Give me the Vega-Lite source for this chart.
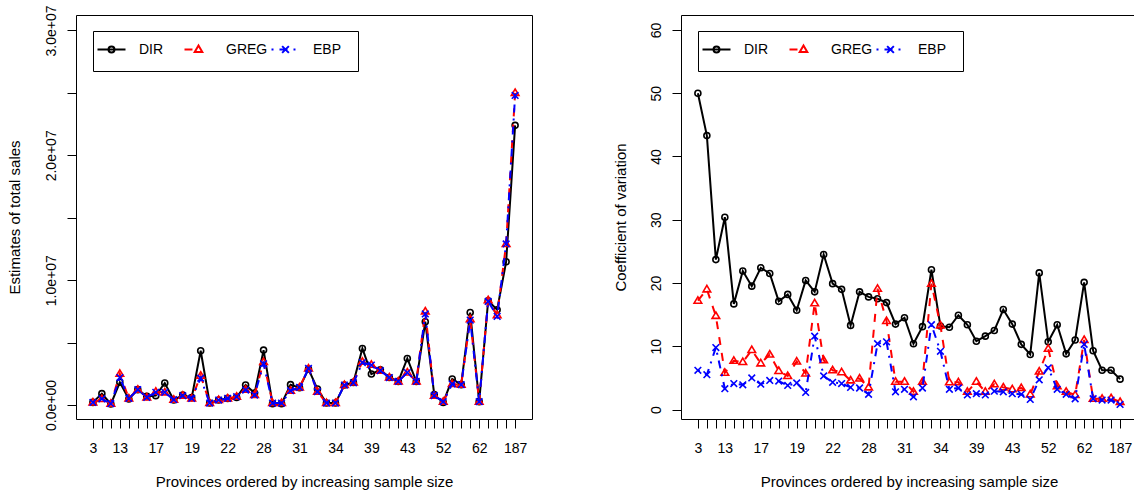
{
  "$schema": "https://vega.github.io/schema/vega-lite/v6.json",
  "autosize": {"type": "pad"},
  "padding": {"left": 6, "top": 4, "right": 0, "bottom": 0},
  "background": "white",
  "datasets": {
    "sales": [
      {"i":1,"DIR":210000,"GREG":210000,"EBP":210000},
      {"i":2,"DIR":910000,"GREG":480000,"EBP":500000},
      {"i":3,"DIR":80000,"GREG":110000,"EBP":110000},
      {"i":4,"DIR":1820000,"GREG":2500000,"EBP":2200000},
      {"i":5,"DIR":480000,"GREG":530000,"EBP":530000},
      {"i":6,"DIR":1230000,"GREG":1230000,"EBP":1230000},
      {"i":7,"DIR":690000,"GREG":610000,"EBP":610000},
      {"i":8,"DIR":750000,"GREG":1070000,"EBP":1020000},
      {"i":9,"DIR":1760000,"GREG":1010000,"EBP":1020000},
      {"i":10,"DIR":400000,"GREG":430000,"EBP":430000},
      {"i":11,"DIR":800000,"GREG":750000,"EBP":750000},
      {"i":12,"DIR":590000,"GREG":530000,"EBP":530000},
      {"i":13,"DIR":4350000,"GREG":2350000,"EBP":2150000},
      {"i":14,"DIR":160000,"GREG":160000,"EBP":160000},
      {"i":15,"DIR":400000,"GREG":400000,"EBP":400000},
      {"i":16,"DIR":530000,"GREG":530000,"EBP":530000},
      {"i":17,"DIR":610000,"GREG":670000,"EBP":670000},
      {"i":18,"DIR":1600000,"GREG":1230000,"EBP":1200000},
      {"i":19,"DIR":960000,"GREG":800000,"EBP":800000},
      {"i":20,"DIR":4400000,"GREG":3450000,"EBP":3300000},
      {"i":21,"DIR":110000,"GREG":160000,"EBP":160000},
      {"i":22,"DIR":110000,"GREG":160000,"EBP":160000},
      {"i":23,"DIR":1630000,"GREG":1150000,"EBP":1150000},
      {"i":24,"DIR":1390000,"GREG":1410000,"EBP":1410000},
      {"i":25,"DIR":2880000,"GREG":2930000,"EBP":2930000},
      {"i":26,"DIR":1280000,"GREG":1070000,"EBP":1070000},
      {"i":27,"DIR":160000,"GREG":160000,"EBP":160000},
      {"i":28,"DIR":160000,"GREG":160000,"EBP":160000},
      {"i":29,"DIR":1600000,"GREG":1600000,"EBP":1600000},
      {"i":30,"DIR":1810000,"GREG":1810000,"EBP":1780000},
      {"i":31,"DIR":4530000,"GREG":3470000,"EBP":3400000},
      {"i":32,"DIR":2480000,"GREG":3230000,"EBP":3200000},
      {"i":33,"DIR":2830000,"GREG":2750000,"EBP":2750000},
      {"i":34,"DIR":2210000,"GREG":2210000,"EBP":2200000},
      {"i":35,"DIR":1890000,"GREG":1890000,"EBP":1890000},
      {"i":36,"DIR":3730000,"GREG":2610000,"EBP":2600000},
      {"i":37,"DIR":1890000,"GREG":1890000,"EBP":1890000},
      {"i":38,"DIR":6670000,"GREG":7500000,"EBP":7300000},
      {"i":39,"DIR":830000,"GREG":750000,"EBP":750000},
      {"i":40,"DIR":210000,"GREG":270000,"EBP":270000},
      {"i":41,"DIR":2080000,"GREG":1680000,"EBP":1680000},
      {"i":42,"DIR":1630000,"GREG":1630000,"EBP":1630000},
      {"i":43,"DIR":7410000,"GREG":6880000,"EBP":6800000},
      {"i":44,"DIR":270000,"GREG":270000,"EBP":270000},
      {"i":45,"DIR":8350000,"GREG":8400000,"EBP":8300000},
      {"i":46,"DIR":7630000,"GREG":7200000,"EBP":7100000},
      {"i":47,"DIR":11470000,"GREG":12900000,"EBP":12900000},
      {"i":48,"DIR":22400000,"GREG":25000000,"EBP":24800000}
    ],
    "cv": [
      {"i":1,"DIR":50.0,"GREG":17.2,"EBP":6.2},
      {"i":2,"DIR":43.3,"GREG":19.0,"EBP":5.5},
      {"i":3,"DIR":23.7,"GREG":14.8,"EBP":9.8},
      {"i":4,"DIR":30.4,"GREG":5.8,"EBP":3.3},
      {"i":5,"DIR":16.7,"GREG":7.7,"EBP":4.1},
      {"i":6,"DIR":21.9,"GREG":7.5,"EBP":3.9},
      {"i":7,"DIR":19.5,"GREG":9.4,"EBP":5.0},
      {"i":8,"DIR":22.4,"GREG":7.3,"EBP":4.0},
      {"i":9,"DIR":21.5,"GREG":8.7,"EBP":4.6},
      {"i":10,"DIR":17.1,"GREG":6.1,"EBP":4.5},
      {"i":11,"DIR":18.2,"GREG":5.3,"EBP":3.8},
      {"i":12,"DIR":15.7,"GREG":7.6,"EBP":4.2},
      {"i":13,"DIR":20.4,"GREG":5.7,"EBP":2.7},
      {"i":14,"DIR":18.6,"GREG":16.8,"EBP":11.6},
      {"i":15,"DIR":24.5,"GREG":7.8,"EBP":5.3},
      {"i":16,"DIR":19.9,"GREG":6.2,"EBP":4.3},
      {"i":17,"DIR":19.0,"GREG":5.9,"EBP":4.1},
      {"i":18,"DIR":13.3,"GREG":4.6,"EBP":3.5},
      {"i":19,"DIR":18.6,"GREG":4.9,"EBP":3.4},
      {"i":20,"DIR":17.8,"GREG":3.5,"EBP":2.4},
      {"i":21,"DIR":17.5,"GREG":19.1,"EBP":10.4},
      {"i":22,"DIR":16.9,"GREG":14.0,"EBP":10.7},
      {"i":23,"DIR":13.5,"GREG":4.4,"EBP":2.8},
      {"i":24,"DIR":14.5,"GREG":4.4,"EBP":3.2},
      {"i":25,"DIR":10.4,"GREG":2.8,"EBP":2.0},
      {"i":26,"DIR":13.1,"GREG":4.4,"EBP":3.4},
      {"i":27,"DIR":22.1,"GREG":19.9,"EBP":13.4},
      {"i":28,"DIR":13.2,"GREG":13.3,"EBP":9.2},
      {"i":29,"DIR":13.0,"GREG":4.3,"EBP":3.2},
      {"i":30,"DIR":14.9,"GREG":4.3,"EBP":3.4},
      {"i":31,"DIR":13.4,"GREG":2.8,"EBP":2.3},
      {"i":32,"DIR":10.8,"GREG":4.4,"EBP":2.5},
      {"i":33,"DIR":11.6,"GREG":2.8,"EBP":2.3},
      {"i":34,"DIR":12.5,"GREG":4.0,"EBP":2.9},
      {"i":35,"DIR":15.8,"GREG":3.5,"EBP":2.8},
      {"i":36,"DIR":13.5,"GREG":3.2,"EBP":2.5},
      {"i":37,"DIR":10.3,"GREG":3.4,"EBP":2.4},
      {"i":38,"DIR":8.7,"GREG":2.4,"EBP":1.6},
      {"i":39,"DIR":21.6,"GREG":6.0,"EBP":4.7},
      {"i":40,"DIR":10.7,"GREG":9.6,"EBP":6.6},
      {"i":41,"DIR":13.4,"GREG":3.7,"EBP":3.2},
      {"i":42,"DIR":8.8,"GREG":2.8,"EBP":2.4},
      {"i":43,"DIR":11.0,"GREG":2.3,"EBP":1.7},
      {"i":44,"DIR":20.1,"GREG":11.0,"EBP":10.3},
      {"i":45,"DIR":9.3,"GREG":1.7,"EBP":1.7},
      {"i":46,"DIR":6.2,"GREG":1.7,"EBP":1.5},
      {"i":47,"DIR":6.2,"GREG":1.8,"EBP":1.5},
      {"i":48,"DIR":4.8,"GREG":1.2,"EBP":0.8}
    ]
  },
  "config": {
    "font": "Liberation Sans",
    "view": {"stroke": "black", "strokeWidth": 1},
    "axis": {
      "grid": false, "domain": false, "domainColor": "black", "domainWidth": 1,
      "tickColor": "black", "tickSize": 9, "tickWidth": 1,
      "labelFont": "Liberation Sans", "labelFontSize": 14, "labelColor": "black",
      "titleFont": "Liberation Sans", "titleFontSize": 15, "titleFontWeight": "normal", "titleColor": "black",
      "labelOverlap": false, "labelFlush": false
    },
    "legend": {
      "orient": "none", "legendX": 17, "legendY": 16,
      "direction": "horizontal", "columns": 3, "gridAlign": "all",
      "strokeColor": "black", "fillColor": "white", "padding": 3.5,
      "symbolSize": 784, "symbolStrokeWidth": 2, "symbolOpacity": 1, "symbolOffset": 0,
      "labelFont": "Liberation Sans", "labelFontSize": 14, "labelColor": "black",
      "labelOffset": 12.5, "columnPadding": 0, "rowPadding": 0, "cornerRadius": 0
    }
  },
  "spacing": 149,
  "bounds": "flush",
  "resolve": {"scale": {"color": "independent", "shape": "independent"}, "legend": {"color": "independent", "shape": "independent"}},
  "hconcat": [
    {
      "width": 456,
      "height": 404,
      "data": {"name": "sales"},
      "resolve": {"axis": {"x": "independent", "y": "independent"}},
      "layer": [
        {
          "mark": {"type": "line", "color": "black", "strokeWidth": 2},
          "encoding": {
            "x": {"field": "i", "type": "quantitative", "scale": {"domain": [-0.88, 49.88], "nice": false, "zero": false},
              "axis": {
                "values": [1,2,3,4,5,6,7,8,9,10,11,12,13,14,15,16,17,18,19,20,21,22,23,24,25,26,27,28,29,30,31,32,33,34,35,36,37,38,39,40,41,42,43,44,45,46,47,48],
                "labelExpr": "datum.value == 1 ? '3' : datum.value == 4 ? '13' : datum.value == 8 ? '17' : datum.value == 12 ? '19' : datum.value == 16 ? '22' : datum.value == 20 ? '28' : datum.value == 24 ? '31' : datum.value == 28 ? '34' : datum.value == 32 ? '39' : datum.value == 36 ? '43' : datum.value == 40 ? '52' : datum.value == 44 ? '62' : datum.value == 48 ? '187' : ''",
                "labelAngle": 0, "labelAlign": "center", "labelBaseline": "alphabetic", "labelPadding": 24,
                "title": "Provinces ordered by increasing sample size", "titleY": 67, "titleBaseline": "alphabetic"
              }},
            "y": {"field": "DIR", "type": "quantitative", "scale": {"domain": [-1120000, 31240000], "nice": false, "zero": false},
              "axis": {
                "values": [0, 5000000, 10000000, 15000000, 20000000, 25000000, 30000000],
                "labelExpr": "datum.value == 0 ? '0.0e+00' : datum.value % 10000000 == 0 ? format(datum.value / 10000000, '.1f') + 'e+07' : ''",
                "labelAngle": -90, "labelAlign": "center", "labelBaseline": "alphabetic", "labelPadding": 12,
                "title": "Estimates of total sales", "titleX": -57, "titleBaseline": "alphabetic", "titleAngle": -90
              }}
          }
        },
        {
          "mark": {"type": "point", "shape": "M0.75,0A0.75,0.75,0,1,1,-0.75,0A0.75,0.75,0,1,1,0.75,0", "size": 64, "filled": false, "color": "black", "strokeWidth": 1.6, "opacity": 1},
          "encoding": {
            "x": {"field": "i", "type": "quantitative", "axis": null},
            "y": {"field": "DIR", "type": "quantitative", "axis": null}
          }
        },
        {
          "mark": {"type": "line", "color": "#ff0000", "strokeWidth": 2, "strokeDash": [8, 8], "strokeCap": "butt"},
          "encoding": {
            "x": {"field": "i", "type": "quantitative", "axis": null},
            "y": {"field": "GREG", "type": "quantitative", "axis": null}
          }
        },
        {
          "mark": {"type": "point", "shape": "M0,-0.975L0.95,0.625L-0.95,0.625Z", "size": 64, "filled": false, "color": "#ff0000", "strokeWidth": 1.6, "opacity": 1},
          "encoding": {
            "x": {"field": "i", "type": "quantitative", "axis": null},
            "y": {"field": "GREG", "type": "quantitative", "axis": null}
          }
        },
        {
          "mark": {"type": "line", "color": "#0000ff", "strokeWidth": 2, "strokeDash": [2, 6, 8, 6], "strokeCap": "butt"},
          "encoding": {
            "x": {"field": "i", "type": "quantitative", "axis": null},
            "y": {"field": "EBP", "type": "quantitative", "axis": null}
          }
        },
        {
          "mark": {"type": "point", "shape": "M-0.83,-0.83L0.83,0.83M-0.83,0.83L0.83,-0.83", "size": 64, "filled": false, "color": "#0000ff", "strokeWidth": 1.6, "opacity": 1},
          "encoding": {
            "x": {"field": "i", "type": "quantitative", "axis": null},
            "y": {"field": "EBP", "type": "quantitative", "axis": null}
          }
        },
        {
          "transform": [{"fold": ["DIR", "GREG", "EBP"], "as": ["method", "value"]}],
          "mark": {"type": "point", "filled": false, "opacity": 0},
          "encoding": {
            "x": {"field": "i", "type": "quantitative", "axis": null},
            "y": {"field": "value", "type": "quantitative", "axis": null},
            "color": {"field": "method", "type": "nominal",
              "scale": {"domain": ["DIR", "GREG", "EBP"], "range": ["black", "#ff0000", "#0000ff"]},
              "legend": {"title": null, "symbolOpacity": 1}},
            "shape": {"field": "method", "type": "nominal",
              "scale": {"domain": ["DIR", "GREG", "EBP"], "range": [
                "M0,-1M0,1M4.6,0M-1,0H1M0.214,0A0.214,0.214,0,1,1,-0.214,0A0.214,0.214,0,1,1,0.214,0",
                "M0,-1M0,1M4.6,0M-1,0H-0.43M0,-0.28L0.27,0.18L-0.27,0.18Z",
                "M0,-1M0,1M4.6,0M-1,0H-0.857M-0.429,0H0.143M0.571,0H0.714M-0.24,-0.24L0.24,0.24M-0.24,0.24L0.24,-0.24"
              ]},
              "legend": {"title": null, "symbolOpacity": 1}}
          }
        }
      ]
    },
    {
      "width": 453,
      "height": 404,
      "view": {"stroke": null},
      "data": {"name": "cv"},
      "resolve": {"axis": {"x": "independent", "y": "independent"}},
      "layer": [
        {
          "mark": {"type": "line", "color": "black", "strokeWidth": 2},
          "encoding": {
            "x": {"field": "i", "type": "quantitative", "scale": {"domain": [-0.88, 49.55], "nice": false, "zero": false},
              "axis": {
                "domain": true,
                "values": [1,2,3,4,5,6,7,8,9,10,11,12,13,14,15,16,17,18,19,20,21,22,23,24,25,26,27,28,29,30,31,32,33,34,35,36,37,38,39,40,41,42,43,44,45,46,47,48],
                "labelExpr": "datum.value == 1 ? '3' : datum.value == 4 ? '13' : datum.value == 8 ? '17' : datum.value == 12 ? '19' : datum.value == 16 ? '22' : datum.value == 20 ? '28' : datum.value == 24 ? '31' : datum.value == 28 ? '34' : datum.value == 32 ? '39' : datum.value == 36 ? '43' : datum.value == 40 ? '52' : datum.value == 44 ? '62' : datum.value == 48 ? '187' : ''",
                "labelAngle": 0, "labelAlign": "center", "labelBaseline": "alphabetic", "labelPadding": 24,
                "title": "Provinces ordered by increasing sample size", "titleY": 67, "titleX": 228, "titleBaseline": "alphabetic"
              }},
            "y": {"field": "DIR", "type": "quantitative", "scale": {"domain": [-1.5, 62.37], "nice": false, "zero": false},
              "axis": {
                "domain": true,
                "values": [0, 10, 20, 30, 40, 50, 60], "format": "d",
                "labelAngle": -90, "labelAlign": "center", "labelBaseline": "alphabetic", "labelPadding": 12,
                "title": "Coefficient of variation", "titleX": -56, "titleBaseline": "alphabetic", "titleAngle": -90
              }}
          }
        },
        {
          "mark": {"type": "point", "shape": "M0.75,0A0.75,0.75,0,1,1,-0.75,0A0.75,0.75,0,1,1,0.75,0", "size": 64, "filled": false, "color": "black", "strokeWidth": 1.6, "opacity": 1},
          "encoding": {
            "x": {"field": "i", "type": "quantitative", "axis": null},
            "y": {"field": "DIR", "type": "quantitative", "axis": null}
          }
        },
        {
          "mark": {"type": "line", "color": "#ff0000", "strokeWidth": 2, "strokeDash": [8, 8], "strokeCap": "butt"},
          "encoding": {
            "x": {"field": "i", "type": "quantitative", "axis": null},
            "y": {"field": "GREG", "type": "quantitative", "axis": null}
          }
        },
        {
          "mark": {"type": "point", "shape": "M0,-0.975L0.95,0.625L-0.95,0.625Z", "size": 64, "filled": false, "color": "#ff0000", "strokeWidth": 1.6, "opacity": 1},
          "encoding": {
            "x": {"field": "i", "type": "quantitative", "axis": null},
            "y": {"field": "GREG", "type": "quantitative", "axis": null}
          }
        },
        {
          "mark": {"type": "line", "color": "#0000ff", "strokeWidth": 2, "strokeDash": [2, 6, 8, 6], "strokeCap": "butt"},
          "encoding": {
            "x": {"field": "i", "type": "quantitative", "axis": null},
            "y": {"field": "EBP", "type": "quantitative", "axis": null}
          }
        },
        {
          "mark": {"type": "point", "shape": "M-0.83,-0.83L0.83,0.83M-0.83,0.83L0.83,-0.83", "size": 64, "filled": false, "color": "#0000ff", "strokeWidth": 1.6, "opacity": 1},
          "encoding": {
            "x": {"field": "i", "type": "quantitative", "axis": null},
            "y": {"field": "EBP", "type": "quantitative", "axis": null}
          }
        },
        {
          "transform": [{"fold": ["DIR", "GREG", "EBP"], "as": ["method", "value"]}],
          "mark": {"type": "point", "filled": false, "opacity": 0},
          "encoding": {
            "x": {"field": "i", "type": "quantitative",
              "axis": {"orient": "top", "labels": false, "ticks": false, "domain": true, "title": null, "grid": false}},
            "y": {"field": "value", "type": "quantitative", "axis": null},
            "color": {"field": "method", "type": "nominal",
              "scale": {"domain": ["DIR", "GREG", "EBP"], "range": ["black", "#ff0000", "#0000ff"]},
              "legend": {"title": null, "symbolOpacity": 1}},
            "shape": {"field": "method", "type": "nominal",
              "scale": {"domain": ["DIR", "GREG", "EBP"], "range": [
                "M0,-1M0,1M4.6,0M-1,0H1M0.214,0A0.214,0.214,0,1,1,-0.214,0A0.214,0.214,0,1,1,0.214,0",
                "M0,-1M0,1M4.6,0M-1,0H-0.43M0,-0.28L0.27,0.18L-0.27,0.18Z",
                "M0,-1M0,1M4.6,0M-1,0H-0.857M-0.429,0H0.143M0.571,0H0.714M-0.24,-0.24L0.24,0.24M-0.24,0.24L0.24,-0.24"
              ]},
              "legend": {"title": null, "symbolOpacity": 1}}
          }
        }
      ]
    }
  ]
}
